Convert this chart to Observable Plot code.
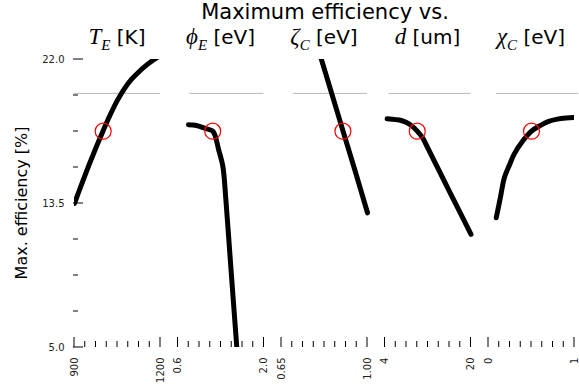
<!DOCTYPE html>
<html><head><meta charset="utf-8">
<script src="https://cdn.jsdelivr.net/npm/d3@7"></script>
<script src="https://cdn.jsdelivr.net/npm/@observablehq/plot@0.6"></script>
<style>
html,body{margin:0;padding:0;background:#fff;}
#chart{position:relative;width:579px;height:387px;overflow:hidden;font-family:"DejaVu Sans",sans-serif;}
#chart > svg{position:absolute;top:0;left:0;}
</style></head><body><div id="chart"></div>
<script>
// ---- shared y values ----
const yDomain = [5, 22];
const yMajorTicks = [5, 13.5, 22];
const yMinorTicks = [7.125, 9.25, 11.375, 15.625, 17.75, 19.875];
const referenceEfficiency = 20;
const nominalEfficiency = 17.77;

// ---- panel 1: T_E [K] ----
const tempDomain = [900, 1200];
const tempTickLabels = ["900", "1200"];
const tempK   = [900, 925, 950, 975, 1000, 1025, 1050, 1075, 1100, 1125, 1150, 1175, 1200];
const effTemp = [13.5, 14.65, 15.75, 16.8, 17.8, 18.75, 19.6, 20.3, 20.85, 21.28, 21.65, 21.97, 22.25];
const tempNominal = 1000;
const tempRefRange = [900, 1200];

// ---- panel 2: phi_E [eV] ----
const phiDomain = [0.6, 2.0];
const phiTickLabels = ["0.6", "2.0"];
const phiE   = [0.77, 0.85, 0.95, 1.05, 1.12, 1.165, 1.2, 1.26, 1.33, 1.38, 1.46, 1.54, 1.6];
const effPhi = [18.15, 18.13, 18.05, 17.92, 17.85, 17.77, 17.55, 16.7, 15.7, 13.7, 9.75, 5.85, 2.9];
const phiNominal = 1.165;
const phiRefRange = [0.795, 2.0];

// ---- panel 3: zeta_C [eV] ----
const zetaDomain = [0.65, 1.0];
const zetaTickLabels = ["0.65", "1.00"];
const zetaC   = [0.7, 0.78, 0.813, 0.85, 0.9, 0.95, 1.0];
const effZeta = [27.4, 23.6, 21.98, 20.2, 17.8, 15.4, 12.95];
const zetaNominal = 0.9;
const zetaRefRange = [0.7, 1.0];

// ---- panel 4: d [um] ----
const dDomain = [4, 20];
const dTickLabels = ["4", "20"];
const dUm  = [4.4, 6, 7, 8, 9, 10, 11, 12, 14, 16, 18, 20];
const effD = [18.5, 18.45, 18.4, 18.28, 18.08, 17.77, 17.38, 16.75, 15.48, 14.2, 12.95, 11.68];
const dNominal = 10;
const dRefRange = [4.74, 20];

// ---- panel 5: chi_C [eV] ----
const chiDomain = [0, 1];
const chiTickLabels = ["0", "1"];
const chiC   = [0.09, 0.14, 0.186, 0.25, 0.3, 0.4, 0.5, 0.6, 0.7, 0.8, 0.9, 1.0];
const effChi = [12.66, 13.9, 15.05, 15.85, 16.43, 17.2, 17.77, 18.1, 18.35, 18.48, 18.55, 18.58];
const chiNominal = 0.5;
const chiRefRange = [0.093, 1.05];

// ---- texts ----
const titleText = "Maximum efficiency vs.";
const yLabelText = "Max. efficiency [%]";
const panelTitles = [
  {math: "T", sub: "E", unit: " [K]"},
  {math: "\u03D5", sub: "E", unit: " [eV]"},
  {math: "\u03B6", sub: "C", unit: " [eV]"},
  {math: "d", sub: "", unit: " [um]"},
  {math: "\u03C7", sub: "C", unit: " [eV]"}
];

const panels = [
  {domain: tempDomain, labels: tempTickLabels, x: tempK, y: effTemp, nominal: tempNominal, ref: tempRefRange},
  {domain: phiDomain, labels: phiTickLabels, x: phiE, y: effPhi, nominal: phiNominal, ref: phiRefRange},
  {domain: zetaDomain, labels: zetaTickLabels, x: zetaC, y: effZeta, nominal: zetaNominal, ref: zetaRefRange},
  {domain: dDomain, labels: dTickLabels, x: dUm, y: effD, nominal: dNominal, ref: dRefRange},
  {domain: chiDomain, labels: chiTickLabels, x: chiC, y: effChi, nominal: chiNominal, ref: chiRefRange}
];

// ---- layout: one plot, each panel occupies one unit of a shared x scale ----
const W = 579, H = 387, ML = 74, MR = 5, MT = 59, MB = 40;
const panelPx = 86, pitchPx = 103.5;
const pitch = pitchPx / panelPx;
const xMax = 4 * pitch + 1;
const frameH = H - MT - MB;
const yPerPx = (yDomain[1] - yDomain[0]) / frameH;
const xPerPx = 1 / panelPx;
const xn = (i, v) => i * pitch + (v - panels[i].domain[0]) / (panels[i].domain[1] - panels[i].domain[0]);

const rows = [], refs = [], dots = [], tickRects = [], xTicks = [], xLabel = new Map();
panels.forEach((p, i) => {
  p.x.forEach((v, k) => rows.push({panel: i, x: xn(i, v), y: p.y[k]}));
  refs.push({y: referenceEfficiency, x1: xn(i, p.ref[0]), x2: xn(i, p.ref[1])});
  dots.push({x: xn(i, p.nominal), y: nominalEfficiency});
  p.domain.forEach((v, k) => {
    const t = xn(i, v);
    xTicks.push(t);
    xLabel.set(t, p.labels[k]);
    tickRects.push({x1: t - 0.5 * xPerPx, x2: t + 0.5 * xPerPx, y1: yDomain[0], y2: yDomain[0] + 10 * yPerPx});
  });
  d3.range(1, 8).forEach(k => {
    const t = i * pitch + k / 8;
    tickRects.push({x1: t - 0.5 * xPerPx, x2: t + 0.5 * xPerPx, y1: yDomain[0], y2: yDomain[0] + 6 * yPerPx});
  });
});
yMajorTicks.forEach(v => tickRects.push({x1: -xPerPx, x2: 9 * xPerPx, y1: v - 0.5 * yPerPx, y2: v + 0.5 * yPerPx}));
yMinorTicks.forEach(v => tickRects.push({x1: -xPerPx, x2: 4 * xPerPx, y1: v - 0.5 * yPerPx, y2: v + 0.5 * yPerPx}));

const chart = document.getElementById("chart");

// ---- text layer ----
const overlay = d3.select(chart).append("svg").attr("width", W).attr("height", H);
overlay.append("text")
  .attr("x", 325).attr("y", 18.5).attr("text-anchor", "middle")
  .style("font-family", "DejaVu Sans").style("font-size", "21px").attr("fill", "#000")
  .text(titleText);
overlay.append("text")
  .attr("transform", "translate(26.5,203) rotate(-90)").attr("text-anchor", "middle")
  .style("font-family", "DejaVu Sans").style("font-size", "16px").attr("fill", "#000")
  .text(yLabelText);
panelTitles.forEach((t, i) => {
  const tx = overlay.append("text")
    .attr("x", ML + i * pitchPx + panelPx / 2).attr("y", 44)
    .attr("text-anchor", "middle").style("white-space", "pre").attr("fill", "#000");
  tx.append("tspan")
    .style("font-family", "'Liberation Serif','DejaVu Serif',serif")
    .style("font-style", "italic").style("font-size", "23px").text(t.math);
  if (t.sub) {
    tx.append("tspan")
      .style("font-family", "'Liberation Serif','DejaVu Serif',serif")
      .style("font-style", "italic").style("font-size", "15px").attr("dy", 6).text(t.sub);
  }
  tx.append("tspan")
    .style("font-family", "DejaVu Sans").style("font-size", "20px")
    .attr("dy", t.sub ? -6 : 0).text(t.unit);
});

// ---- the plot ----
const svg = Plot.plot({
  width: W, height: H,
  marginLeft: ML, marginRight: MR, marginTop: MT, marginBottom: MB,
  style: {fontFamily: "DejaVu Sans", fontSize: "10px", color: "#222", background: "transparent", overflow: "visible"},
  x: {domain: [0, xMax], ticks: xTicks, tickFormat: d => xLabel.get(d), tickRotate: -90, tickSize: 0, tickPadding: 10, label: null},
  y: {domain: yDomain, ticks: yMajorTicks, tickFormat: d => d.toFixed(1), tickSize: 0, tickPadding: 10, label: null},
  marks: [
    Plot.ruleY(refs, {y: "y", x1: "x1", x2: "x2", stroke: "#b8b8b8", strokeWidth: 1}),
    Plot.line(rows, {x: "x", y: "y", z: "panel", stroke: "black", strokeWidth: 5, curve: "catmull-rom", clip: true}),
    Plot.dot(dots, {x: "x", y: "y", r: 8, stroke: "#ff0000", strokeWidth: 1.2, fill: "none"}),
    Plot.rect(tickRects, {x1: "x1", x2: "x2", y1: "y1", y2: "y2", fill: "#000000"})
  ]
});
chart.appendChild(svg);
</script></body></html>
